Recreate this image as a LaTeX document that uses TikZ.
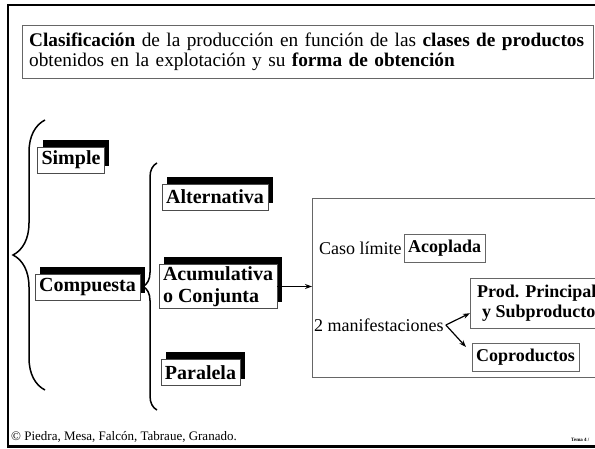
\documentclass[tikz,border=0pt]{standalone}
\usepackage{fontspec}
\setmainfont{Liberation Serif}
\usetikzlibrary{arrows.meta, positioning, shadows, decorations.pathreplacing, calc}

\begin{document}
\begin{tikzpicture}[
  x = 1pt, y = -1pt,
  tag/.style     = {rectangle, draw=black!70, fill=white, minimum height=26pt,
                    font=\fontsize{20}{22}\selectfont\bfseries,
                    inner xsep=4pt, inner ysep=2pt,
                    drop shadow={shadow xshift=5pt, shadow yshift=7pt,
                                 fill=black, opacity=1}},
  subbox/.style  = {rectangle, draw=black!60, fill=white, minimum height=28pt,
                    font=\fontsize{18}{20}\selectfont\bfseries, inner xsep=4pt},
  plain/.style   = {font=\fontsize{18}{20}\selectfont, inner sep=1pt},
  arr/.style     = {-{Stealth[length=7pt, width=5pt]}, line width=1.2pt},
  curly/.style   = {decorate, line width=1.5pt},
]
\useasboundingbox (0,0) rectangle (595,449);
\clip (0,0) rectangle (595,449);

%% ── Frame and title ─────────────────────────────────────────────────────
\draw[line width=2.5pt] (8,5) rectangle (650,446.5);
\node[draw=black!60, anchor=north west, minimum width=571pt, minimum height=53pt,
      text width=557pt, align=left, inner xsep=7pt,
      font=\fontsize{19.3}{20.5}\selectfont] (title) at (22,25)
     {\textbf{Clasificación} de la producción en función de las \textbf{clases de productos}\\
      obtenidos en la explotación y su \textbf{forma de obtención}};

%% ── Left classification ─────────────────────────────────────────────────
\node[tag] (simple)      at (71,160)    {Simple};
\node[tag] (compuesta)   at (87.5,287)  {Compuesta};
\node[tag] (alternativa) at (215,197)   {Alternativa};
\node[tag, align=left] (acumulativa) at (218,286.5) {Acumulativa\\o Conjunta};
\node[tag] (paralela)    at (200.5,372.5) {Paralela};

\coordinate (bigbot) at (45,390);
\coordinate (bigtop) at (45,120);
\coordinate (subbot) at (157,410);
\coordinate (subtop) at (157,163);
\draw[curly, decoration={brace, amplitude=32pt}] (bigbot) -- (bigtop);
\draw[curly, decoration={brace, amplitude=14pt}] (subbot) -- (subtop);

%% ── Right box ───────────────────────────────────────────────────────────
\node[draw=black!60, anchor=north west, minimum width=330pt, minimum height=179pt]
     (limitbox) at (312,198) {};
\node[plain, anchor=west]  (caso)     at (318,248) {Caso límite};
\node[subbox, right=1pt of caso] (acoplada) {Acoplada};
\node[plain, anchor=west]  (manif)    at (313,325) {2 manifestaciones};
\node[subbox, anchor=north west, align=left, minimum height=50pt, inner xsep=7pt]
     (prod) at (470,278) {Prod. Principal\\\hspace*{5pt}y Subproductos};
\node[subbox, anchor=north west] (copro) at (472,343) {Coproductos};

\draw[arr] (acumulativa.east) -- (acumulativa.east -| limitbox.west);
\coordinate (fork) at ([xshift=1pt]manif.east);
\draw[arr] (fork) -- ([yshift=-10pt]prod.west);
\draw[arr] (fork) -- ([xshift=-6pt, yshift=-4pt]copro.north west);

%% ── Footer ──────────────────────────────────────────────────────────────
\node[anchor=west, inner sep=0pt, font=\fontsize{13}{14}\selectfont] (credits)
     at (11,437) {© Piedra, Mesa, Falcón, Tabraue, Granado.};
\node[anchor=west, inner sep=0pt, font=\fontsize{5}{6}\selectfont\bfseries] (tema)
     at (571,440) {Tema 4 /};

\end{tikzpicture}
\end{document}
